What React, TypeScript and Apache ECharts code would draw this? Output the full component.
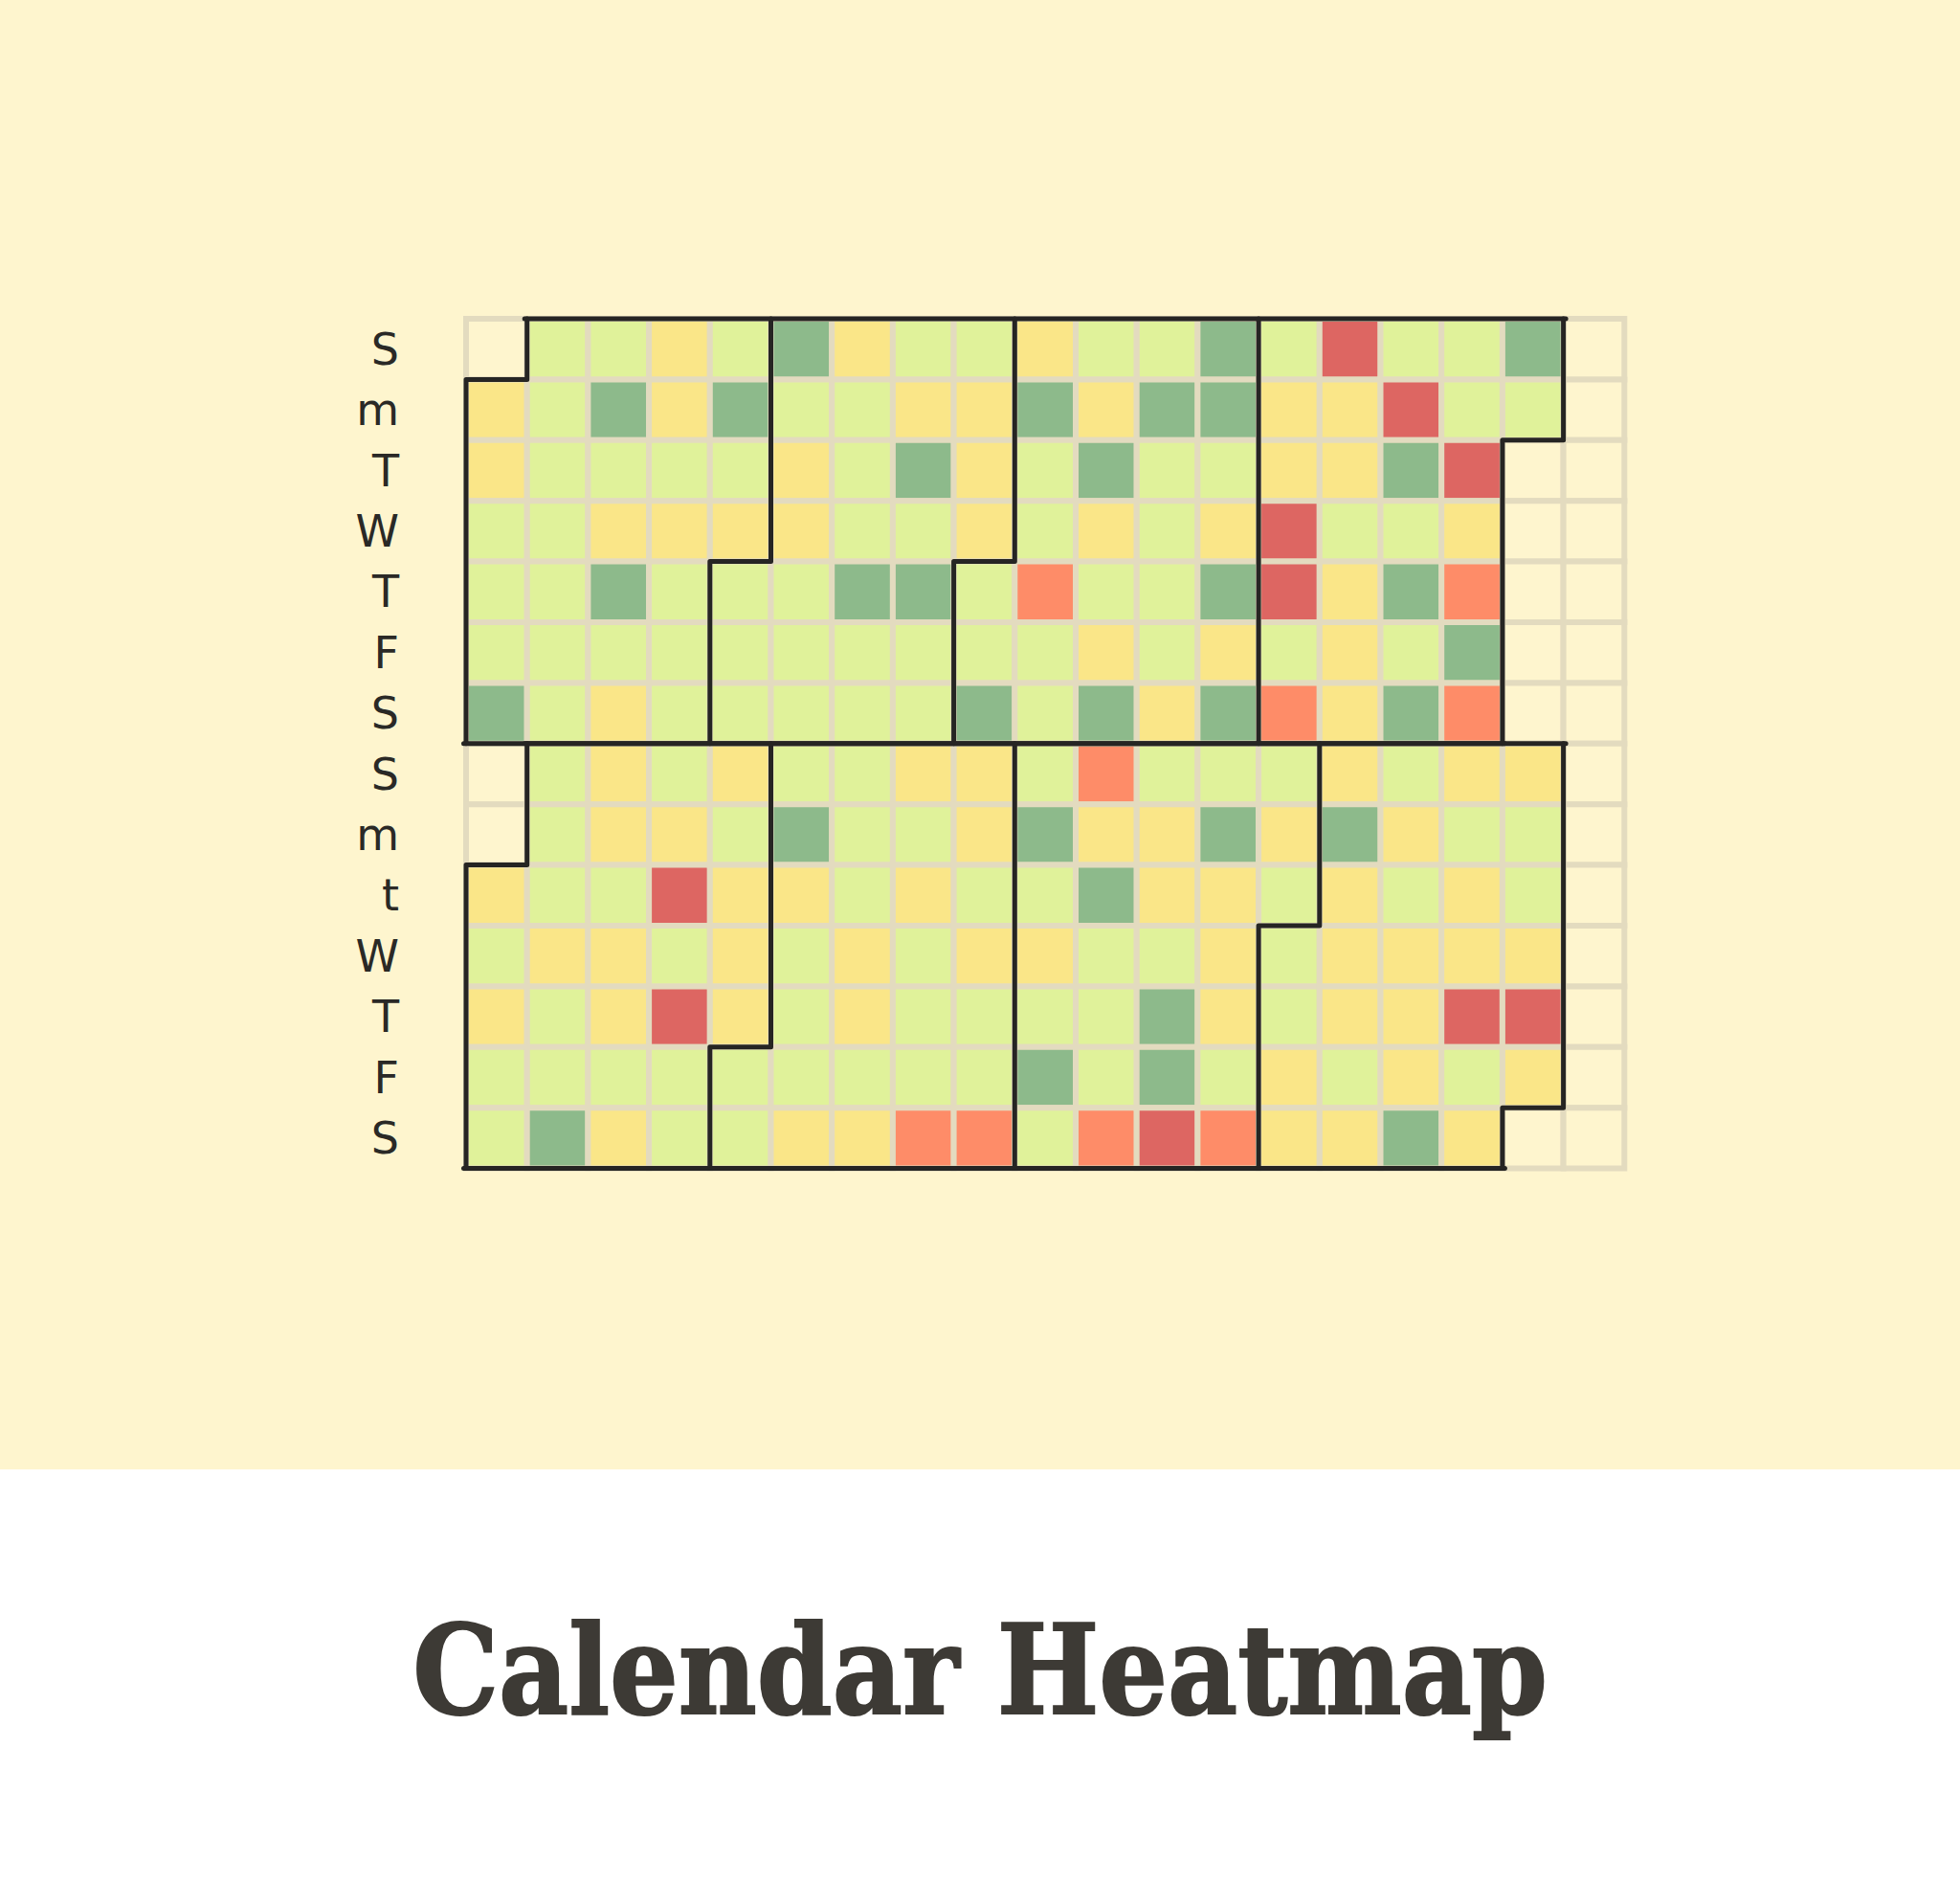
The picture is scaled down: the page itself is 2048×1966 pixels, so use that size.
import React, { useEffect, useRef } from 'react';
import * as echarts from 'echarts';

// Levels: 1 = dark green, 2 = light green, 3 = yellow, 4 = orange, 5 = red
const YEAR = 2018;
const jan = [3, 3, 2, 2, 2, 1, 2, 2, 2, 2, 2, 2, 2, 2, 1, 2, 3, 1, 2, 3, 3, 3, 2, 3, 2, 2, 2, 2, 1, 2, 3];
const feb = [2, 2, 2, 1, 2, 3, 3, 2, 2, 2, 3, 2, 2, 2, 1, 2, 2, 2, 3, 1, 2, 1, 2, 2, 2, 3, 3, 3];
const mar = [2, 2, 1, 3, 1, 2, 2, 4, 2, 2, 2, 3, 1, 3, 2, 3, 1, 2, 1, 2, 2, 2, 2, 3, 1, 1, 2, 3, 1, 3, 1];
const apr = [2, 3, 3, 5, 5, 2, 4, 5, 3, 3, 2, 3, 3, 3, 2, 5, 1, 2, 1, 2, 1, 2, 2, 5, 3, 4, 1, 4, 1, 2];
const may = [3, 2, 3, 2, 2, 2, 2, 2, 3, 2, 2, 1, 3, 3, 2, 3, 3, 2, 3, 2, 3, 5, 2, 5, 2, 2, 3, 2, 3, 3, 3];
const jun = [2, 2, 2, 1, 3, 2, 2, 2, 3, 2, 2, 2, 3, 3, 2, 3, 3, 2, 3, 2, 2, 2, 4, 3, 3, 2, 3, 2, 2, 4];
const jul = [2, 1, 2, 3, 2, 1, 2, 4, 3, 1, 2, 2, 2, 4, 2, 3, 3, 2, 1, 1, 5, 2, 1, 3, 3, 3, 2, 4, 2, 3, 2];
const aug = [2, 2, 3, 3, 3, 1, 3, 3, 3, 2, 3, 2, 3, 2, 3, 3, 3, 1, 3, 2, 3, 3, 5, 2, 3, 3, 2, 2, 3, 5, 3];

const topMonths = [jan, feb, mar, apr];
const bottomMonths = [may, jun, jul, aug];
const topDayNames = ['S', 'm', 'T', 'W', 'T', 'F', 'S'];
const bottomDayNames = ['S', 'm', 't', 'W', 'T', 'F', 'S'];
const levels = [1, 2, 3, 4, 5];
const levelColors = ['#8dba8b', '#e0f29a', '#fae688', '#fe8c68', '#dd6662'];
const titleText = 'Calendar Heatmap';

function pad(n: number) {
  return String(n).padStart(2, '0');
}
function buildData(months: number[][], firstMonth: number) {
  const out: [string, number][] = [];
  months.forEach((vals, mi) => {
    vals.forEach((v, di) => {
      out.push([`${YEAR}-${pad(firstMonth + mi)}-${pad(di + 1)}`, v]);
    });
  });
  return out;
}

const CELL = [63.7, 63.4];
const LEFT = 487;
const TOP = 333;
const GRID_BEIGE = '#e3dbbf';
const CREAM = '#fef5ce';

function bgCal(top: number, range: string[]) {
  return {
    orient: 'horizontal',
    left: LEFT,
    top,
    cellSize: CELL,
    range,
    z: 1,
    silent: true,
    splitLine: { show: false },
    itemStyle: { color: CREAM, borderColor: GRID_BEIGE, borderWidth: 6 },
    dayLabel: { show: false },
    monthLabel: { show: false },
    yearLabel: { show: false },
  };
}
function fgCal(top: number, range: string[], names: string[]) {
  return {
    orient: 'horizontal',
    left: LEFT,
    top,
    cellSize: CELL,
    range,
    z: 3,
    silent: true,
    splitLine: { show: true, lineStyle: { color: '#262523', width: 5, type: 'solid', cap: 'round', join: 'round' } },
    itemStyle: { color: 'rgba(0,0,0,0)', borderWidth: 0 },
    dayLabel: {
      show: true,
      firstDay: 0,
      position: 'start',
      margin: 70,
      nameMap: names,
      color: '#2a2926',
      fontSize: 46,
      fontFamily: 'DejaVu Sans',
    },
    monthLabel: { show: false },
    yearLabel: { show: false },
  };
}

export default function App() {
  const ref = useRef<HTMLDivElement>(null);
  useEffect(() => {
    document.body.style.margin = '0';
    if (!ref.current) return;
    const chart = echarts.init(ref.current, null, { renderer: 'svg' });
    const bottomTop = TOP + 7 * CELL[1];
    chart.setOption({
      animation: false,
      backgroundColor: '#ffffff',
      visualMap: {
        type: 'piecewise',
        show: false,
        seriesIndex: [0, 1],
        pieces: levels.map((v, i) => ({ value: v, color: levelColors[i] })),
      },
      calendar: [
        bgCal(TOP, ['2017-12-31', '2018-05-12']),
        fgCal(TOP, ['2018-01-01', '2018-04-30'], topDayNames),
        bgCal(bottomTop, ['2018-04-29', '2018-09-08']),
        fgCal(bottomTop, ['2018-05-01', '2018-08-31'], bottomDayNames),
      ],
      series: [
        {
          type: 'heatmap',
          coordinateSystem: 'calendar',
          calendarIndex: 1,
          z: 2,
          data: buildData(topMonths, 1),
          itemStyle: { borderColor: GRID_BEIGE, borderWidth: 6 },
          emphasis: { disabled: true },
        },
        {
          type: 'heatmap',
          coordinateSystem: 'calendar',
          calendarIndex: 3,
          z: 2,
          data: buildData(bottomMonths, 5),
          itemStyle: { borderColor: GRID_BEIGE, borderWidth: 6 },
          emphasis: { disabled: true },
        },
      ],
      graphic: {
        elements: [
          {
            type: 'rect',
            z: -100,
            silent: true,
            shape: { x: 0, y: 0, width: 2048, height: 1535 },
            style: { fill: CREAM },
          },
          {
            type: 'text',
            z: 100,
            x: 1024,
            y: 1745,
            scaleX: 0.875,
            silent: true,
            style: {
              text: titleText,
              font: 'bold 129px "DejaVu Serif"',
              fill: '#3d3a35',
              stroke: '#3d3a35',
              lineWidth: 2,
              align: 'center',
              verticalAlign: 'middle',
            },
          },
        ],
      },
    });
    return () => chart.dispose();
  }, []);
  return <div ref={ref} style={{ width: 2048, height: 1966 }} />;
}
